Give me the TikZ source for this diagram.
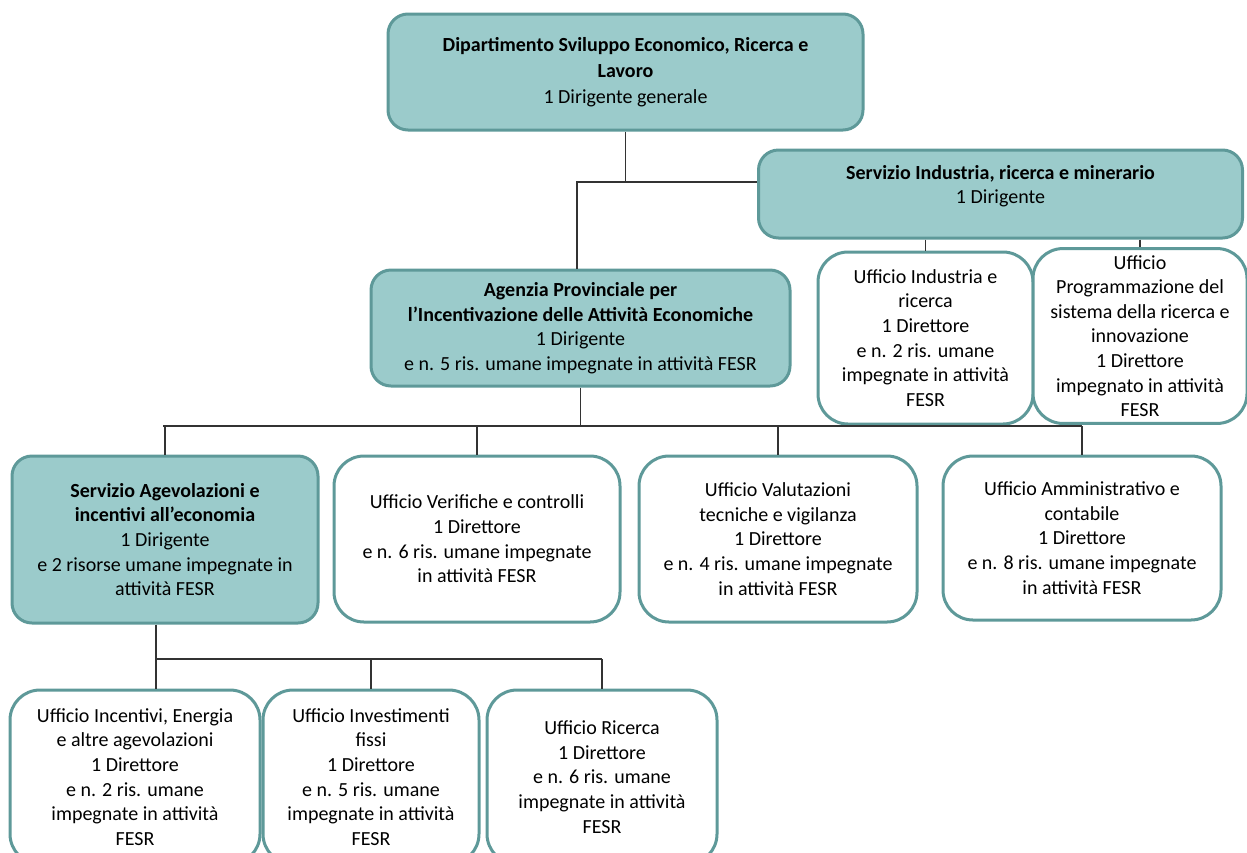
\documentclass[tikz,border=0pt]{standalone}
\usepackage{fontspec}
\setmainfont{Carlito}
\usepackage{xcolor}
\usepackage{tikz}
\usetikzlibrary{calc}
\definecolor{tealfill}{HTML}{9BCBCB}
\definecolor{tealline}{HTML}{5E9999}
\tikzset{
  servizio/.style={draw=tealline, line width=1.5pt, fill=tealfill, rounded corners=10pt, align=center},
  ufficio/.style={draw=tealline, line width=1.5pt, fill=white, rounded corners=15pt, align=center},
  link/.style={draw=black!80, line width=0.6pt}
}
\begin{document}
\begin{tikzpicture}[x=0.5pt, y=-0.5pt, font=\fontsize{10}{12.3}\selectfont]
    % Frame
    \useasboundingbox (0,0) rectangle (1247,852);

    % Coordinates of the buses
    \coordinate (bus1) at (577,182);
    \coordinate (bus2) at (163,426);
    \coordinate (bus3) at (156,659);

    % Dipartimento
    \node[servizio, minimum width=237.5pt, minimum height=58pt, font=\fontsize{10}{13}\selectfont] (dip) at (625.5,72)
        {\textbf{Dipartimento Sviluppo Economico, Ricerca e}\\\textbf{Lavoro}\\1 Dirigente generale};

    % Servizio Industria
    \node[servizio, minimum width=242pt, minimum height=44pt] (serind) at (1000.5,194)
        {\textbf{Servizio Industria, ricerca e minerario}\\1 Dirigente\\[-2.8pt]};

    % Agenzia
    \node[servizio, minimum width=209.5pt, minimum height=58pt] (apiae) at (580.5,328)
        {\textbf{Agenzia Provinciale per}\\\textbf{l'Incentivazione delle Attività Economiche}\\1 Dirigente\\e n. 5 ris. umane impegnate in attività FESR};

    % Uffici of the Servizio Industria
    \node[ufficio, minimum width=107.5pt, minimum height=86pt] (uind) at (925.5,338)
        {Ufficio Industria e\\ricerca\\1 Direttore\\e n. 2 ris. umane\\impegnate in attività\\FESR};
    \node[ufficio, minimum width=107pt, minimum height=84pt] (uprog) at (1140,336)
        {Ufficio\\Programmazione del\\sistema della ricerca e\\innovazione\\1 Direttore\\impegnato in attività\\FESR};

    % Servizio Agevolazioni
    \node[servizio, minimum width=153pt, minimum height=83.5pt] (agev) at (165,539.5)
        {\textbf{Servizio Agevolazioni e}\\\textbf{incentivi all’economia}\\1 Dirigente\\e 2 risorse umane impegnate in\\attività FESR};

    % Uffici of the Agenzia
    \node[ufficio, minimum width=143pt, minimum height=83pt] (uver) at (477,539)
        {Ufficio Verifiche e controlli\\1 Direttore\\e n. 6 ris. umane impegnate\\in attività FESR};
    \node[ufficio, minimum width=139pt, minimum height=83pt] (uval) at (778,539)
        {Ufficio Valutazioni\\tecniche e vigilanza\\1 Direttore\\e n. 4 ris. umane impegnate\\in attività FESR};
    \node[ufficio, minimum width=139pt, minimum height=82pt] (uamm) at (1082,538)
        {Ufficio Amministrativo e\\contabile\\1 Direttore\\e n. 8 ris. umane impegnate\\in attività FESR};

    % Uffici of the Servizio Agevolazioni
    \node[ufficio, minimum width=125pt, minimum height=87pt] (uinc) at (135,777)
        {Ufficio Incentivi, Energia\\e altre agevolazioni\\1 Direttore\\e n. 2 ris. umane\\impegnate in attività\\FESR};
    \node[ufficio, minimum width=108pt, minimum height=87pt] (uinv) at (371,777)
        {Ufficio Investimenti\\fissi\\1 Direttore\\e n. 5 ris. umane\\impegnate in attività\\FESR};
    \node[ufficio, minimum width=115pt, minimum height=87pt] (uric) at (602,777)
        {Ufficio Ricerca\\1 Direttore\\e n. 6 ris. umane\\impegnate in attività\\FESR};

    % Lines
    \draw[link] (dip.south) -- (dip.south |- bus1);
    \draw[link] (bus1 |- apiae.north) -- (bus1) -- (bus1 -| serind.west);
    \draw[link] (serind.south -| uind.north) -- (uind.north);
    \draw[link] (serind.south -| uprog.north) -- (uprog.north);

    \draw[link] (apiae.south) -- (apiae.south |- bus2);
    \draw[link] (bus2) -- (bus2 -| uamm.north);
    \foreach \n in {agev, uver, uval, uamm}
        \draw[link] (bus2 -| \n.north) -- (\n.north);

    \draw[link] (bus3 |- agev.south) -- (bus3 |- uinc.north);
    \draw[link] (bus3) -- (bus3 -| uric.north);
    \foreach \n in {uinv, uric}
        \draw[link] (bus3 -| \n.north) -- (\n.north);
\end{tikzpicture}
\end{document}
